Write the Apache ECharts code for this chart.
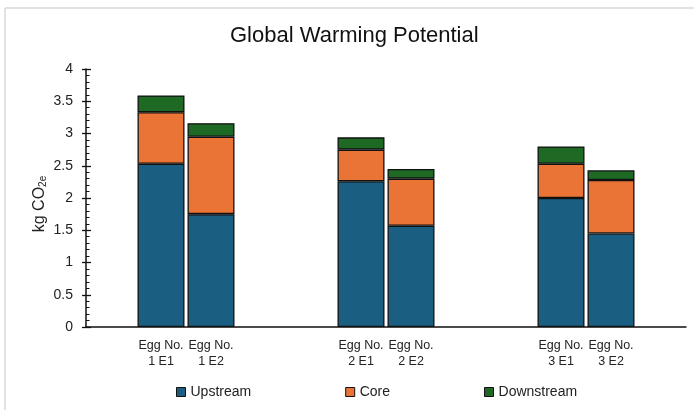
<!DOCTYPE html>
<html>
<head>
<meta charset="utf-8">
<script src="https://cdn.jsdelivr.net/npm/echarts@6/dist/echarts.min.js"></script>
<style>
html,body{margin:0;padding:0;background:#fff;}
#c{width:694px;height:410px;}
</style>
</head>
<body>
<div id="c"></div>
<script>
var categories = ["", "Egg No.\n1 E1", "Egg No.\n1 E2", "", "", "Egg No.\n2 E1", "Egg No.\n2 E2", "", "", "Egg No.\n3 E1", "Egg No.\n3 E2", ""];
var upstream   = [null, 2.53, 1.75, null, null, 2.26, 1.57, null, null, 2.00, 1.45, null];
var core       = [null, 0.80, 1.20, null, null, 0.49, 0.73, null, null, 0.53, 0.83, null];
var downstream = [null, 0.26, 0.21, null, null, 0.19, 0.15, null, null, 0.27, 0.15, null];
var yTicks = [0, 0.5, 1, 1.5, 2, 2.5, 3, 3.5, 4];

var FONT = 'Liberation Sans';
var chart = echarts.init(document.getElementById('c'), null, {renderer: 'canvas'});

function bar(name, data, color) {
  return {
    name: name, type: 'bar', stack: 'total', data: data,
    barWidth: 47, yAxisIndex: 0,
    itemStyle: {color: color, borderColor: '#111', borderWidth: 1.3},
    emphasis: {disabled: true}
  };
}

chart.setOption({
  animation: false,
  textStyle: {fontFamily: FONT},
  graphic: [
    {type: 'line', shape: {x1: 5, y1: 8, x2: 694, y2: 8}, style: {stroke: '#d9d9d9', lineWidth: 1.5}},
    {type: 'line', shape: {x1: 5, y1: 8, x2: 5, y2: 410}, style: {stroke: '#d9d9d9', lineWidth: 1.5}}
  ],
  title: {
    text: 'Global Warming Potential',
    left: 225, top: 20,
    textStyle: {fontFamily: FONT, fontSize: 22, fontWeight: 'normal', color: '#111'}
  },
  legend: {
    left: 171, top: 380,
    itemWidth: 9, itemHeight: 9, itemGap: 94,
    icon: 'rect',
    itemStyle: {borderColor: '#111', borderWidth: 1},
    textStyle: {fontFamily: FONT, fontSize: 14, color: '#222'},
    data: ['Upstream', 'Core', 'Downstream']
  },
  grid: {left: 86, right: 8, top: 69, bottom: 83, containLabel: false},
  xAxis: {
    type: 'category', data: categories,
    axisLine: {lineStyle: {color: '#111', width: 1.5}},
    axisTick: {show: false},
    axisLabel: {interval: 0, margin: 11, fontFamily: FONT, fontSize: 12.5, lineHeight: 15.5, color: '#222'}
  },
  yAxis: [
    {
      type: 'value', min: 0, max: 4, interval: 0.5,
      name: 'kg CO{sub|2e}', nameLocation: 'middle', nameRotate: 90, nameGap: 38,
      nameMoveOverlap: false,
      nameTextStyle: {fontFamily: FONT, fontSize: 16, color: '#222', padding: [0, 12, 0, 0],
        rich: {sub: {fontFamily: FONT, fontSize: 10, color: '#222', verticalAlign: 'bottom', padding: [6, 0, 0, 0]}}},
      axisLine: {show: true, lineStyle: {color: '#111', width: 1.5}},
      axisTick: {show: true, inside: false, length: 4, lineStyle: {color: '#111', width: 1.3}},
      splitLine: {show: false},
      axisLabel: {margin: 13, fontFamily: FONT, fontSize: 14, color: '#222',
        customValues: yTicks, formatter: function (v) { return String(v); }}
    },
    {
      type: 'value', min: 0, max: 4, interval: 0.5, position: 'left',
      axisLine: {show: false},
      axisTick: {show: true, inside: true, length: 5, lineStyle: {color: '#111', width: 1.3}},
      minorTick: {show: true, splitNumber: 5, length: 3.5, lineStyle: {color: '#111', width: 1}},
      splitLine: {show: false},
      axisLabel: {show: false}
    }
  ],
  series: [
    bar('Upstream', upstream, '#1a5f82'),
    bar('Core', core, '#ea7435'),
    bar('Downstream', downstream, '#1e6a24')
  ]
});
</script>
</body>
</html>
